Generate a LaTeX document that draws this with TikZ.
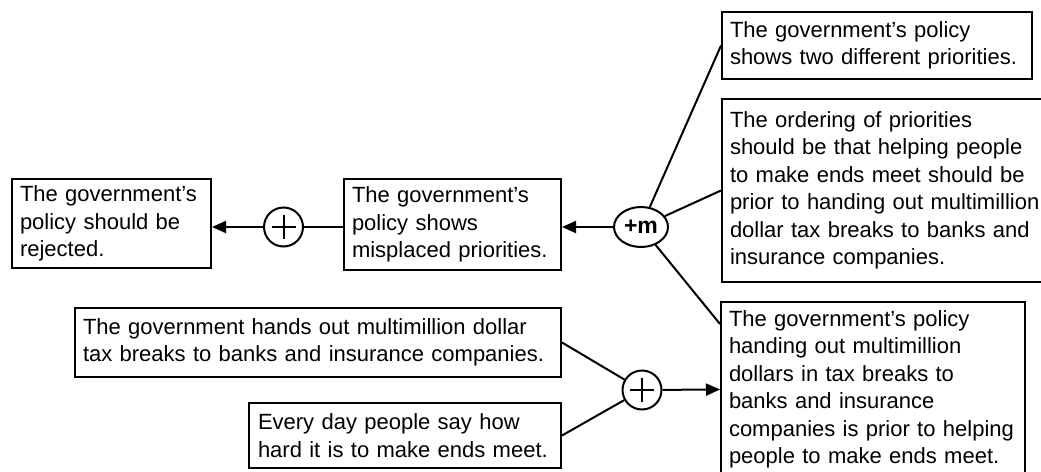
\documentclass[tikz,border=0pt]{standalone}
\usepackage{fontspec}
\setmainfont{Liberation Sans}
\usetikzlibrary{arrows.meta,shapes.geometric,calc}
\tikzset{
  conn/.style={line width=2pt},
  arr/.style={conn, -{Triangle[length=14pt,width=12pt]}},
  box/.style={draw, line width=2pt, rectangle, inner xsep=8pt, inner ysep=0pt,
    align=left, font=\fontsize{22pt}{27.5pt}\selectfont},
  plussign/.style={path picture={
    \draw[line width=2pt] (path picture bounding box.center) +(-12pt,0) -- +(12pt,0)
      (path picture bounding box.center) +(0,-12pt) -- +(0,12pt);}},
  joinnode/.style={draw, circle, line width=2pt, minimum size=39pt, inner sep=0pt, plussign},
  mnode/.style={draw, ellipse, line width=2pt, minimum width=54pt, minimum height=40pt,
    inner sep=0pt, font=\bfseries\fontsize{23pt}{23pt}\selectfont}
}
\begin{document}
\begin{tikzpicture}[x=1pt,y=-1pt]
\useasboundingbox (0,0) rectangle (1041,471);
\clip (0,0) rectangle (1041,471);
\node[box, minimum width=199pt, text width=183pt, minimum height=89pt] (A) at (111.5,223.5)
  {The government’s\\policy should be\\rejected.};
\node[joinnode] (p1) at (283.5,227) {};
\node[box, minimum width=217pt, text width=201pt, minimum height=91pt] (B) at (452.5,224.5)
  {The government’s\\policy shows\\misplaced priorities.};
\node[mnode] (M) at (641,227) {+m};
\node[box, minimum width=310pt, text width=294pt, minimum height=67pt] (C) at (877,45.5)
  {The government’s policy\\shows two different priorities.};
\node[box, minimum width=328pt, text width=312pt, minimum height=183pt] (D) at (886,190.5)
  {The ordering of priorities\\should be that helping people\\to make ends meet should be\\prior to handing out multimillion\\dollar tax breaks to banks and\\insurance companies.};
\node[box, minimum width=304pt, text width=288pt, minimum height=175pt] (E) at (873,389.5)
  {The government’s policy\\handing out multimillion\\dollars in tax breaks to\\banks and insurance\\companies is prior to helping\\people to make ends meet.};
\node[box, minimum width=486pt, text width=470pt, minimum height=69pt] (F) at (318,342.5)
  {The government hands out multimillion dollar\\tax breaks to banks and insurance companies.};
\node[box, minimum width=312pt, text width=294pt, inner xsep=9pt, minimum height=65pt] (G) at (405,435.5)
  {Every day people say how\\hard it is to make ends meet.};
\node[joinnode] (p2) at (642,390) {};
\draw[arr] (p1) -- (p1 -| A.east);
\draw[conn] (p1) -- (p1 -| B.west);
\draw[arr] (M) -- (M -| B.east);
\draw[conn] (M) -- (C.west);
\draw[conn] (M) -- (D.west);
\draw[conn] (M) -- ($(E.north west)!0.13!(E.south west)$);
\draw[conn] (F.east) -- (p2);
\draw[conn] (G.east) -- (p2);
\draw[arr] (p2) -- (E.west);
\end{tikzpicture}
\end{document}
